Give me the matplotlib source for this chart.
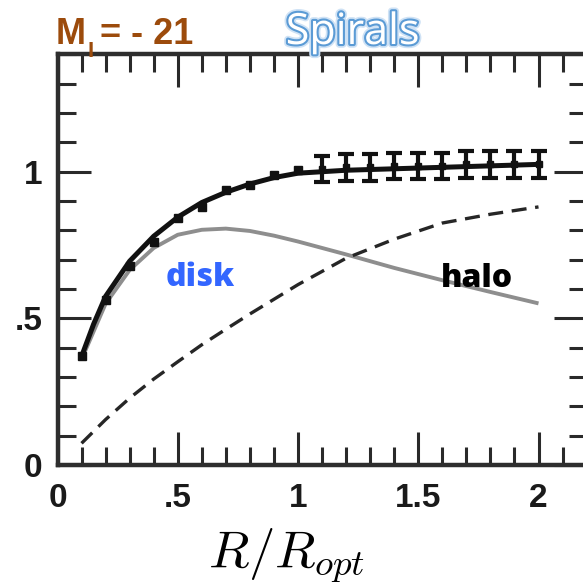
import matplotlib
matplotlib.use('Agg')
import matplotlib.pyplot as plt
import matplotlib.patheffects as pe
from matplotlib.ticker import MultipleLocator

plt.rcParams['mathtext.fontset'] = 'cm'

# ---- data ----
point_r = [0.1, 0.2, 0.3, 0.4, 0.5, 0.6, 0.7, 0.8, 0.9, 1.0]
point_v = [0.37, 0.563, 0.68, 0.761, 0.841, 0.881, 0.938, 0.955, 0.989, 1.006]

err_r = [1.1, 1.2, 1.3, 1.4, 1.5, 1.6, 1.7, 1.8, 1.9, 2.0]
err_v = [1.01, 1.015, 1.015, 1.02, 1.02, 1.02, 1.025, 1.025, 1.025, 1.025]
err_e = [0.045, 0.045, 0.045, 0.045, 0.045, 0.045, 0.045, 0.045, 0.045, 0.045]

total_r = [0.1, 0.15, 0.2, 0.3, 0.4, 0.5, 0.6, 0.7, 0.8, 0.9, 1.0, 1.2, 1.4, 1.6, 1.8, 2.0]
total_v = [0.37, 0.48, 0.575, 0.695, 0.78, 0.845, 0.895, 0.93, 0.958, 0.98, 0.995,
           1.005, 1.01, 1.015, 1.02, 1.025]

disk_r = [0.1, 0.2, 0.3, 0.4, 0.5, 0.6, 0.7, 0.8, 0.9, 1.0, 1.2, 1.4, 1.6, 1.8, 2.0]
disk_v = [0.36, 0.55, 0.665, 0.74, 0.785, 0.802, 0.806, 0.798, 0.782, 0.762,
          0.718, 0.672, 0.630, 0.590, 0.551]

halo_r = [0.1, 0.2, 0.3, 0.4, 0.5, 0.6, 0.7, 0.8, 0.9, 1.0, 1.2, 1.4, 1.6, 1.8, 2.0]
halo_v = [0.074, 0.155, 0.228, 0.293, 0.352, 0.41, 0.463, 0.515, 0.565, 0.615,
          0.705, 0.77, 0.825, 0.855, 0.88]

xtick_vals = [0, 0.5, 1, 1.5, 2]
xtick_labels = ['0', '.5', '1', '1.5', '2']
ytick_vals = [0, 0.5, 1]
ytick_labels = ['0', '.5', '1']

# ---- figure ----
W, H = 583, 584
fig = plt.figure(figsize=(W / 100, H / 100), dpi=100)
ax = fig.add_axes([57.5 / W, (H - 465) / H, 529.1 / W, 410.6 / H])
ax.set_xlim(0, 2.2)
ax.set_ylim(0, 1.4)

ink = '#262626'
ax.plot(disk_r, disk_v, color='#8e8e8e', lw=2.8, solid_capstyle='butt', zorder=2)
ax.plot(halo_r, halo_v, color=ink, lw=2.4, linestyle=(0, (4.5, 2.6)), zorder=2)
ax.plot(total_r, total_v, color='#111111', lw=3.6, zorder=3)
ax.plot(point_r, point_v, linestyle='none', marker='s', ms=5.5, color='#111111', zorder=4)
ax.errorbar(err_r, err_v, yerr=err_e, fmt='s', ms=4.5, color='#111111',
            elinewidth=3, capsize=6, capthick=3, zorder=4)

for s in ax.spines.values():
    s.set_linewidth(3.2)
    s.set_color('#2e2e2e')

ax.set_xticks(xtick_vals, xtick_labels)
ax.set_yticks(ytick_vals, ytick_labels)
ax.xaxis.set_minor_locator(MultipleLocator(0.1))
ax.yaxis.set_minor_locator(MultipleLocator(0.1))
ax.tick_params(which='both', direction='in', top=True, right=True,
               labeltop=False, labelright=False, color='#2a2a2a', width=2.2)
ax.tick_params(which='major', length=24)
ax.tick_params(which='minor', length=13)
ax.tick_params(axis='x', which='major', pad=13, labelsize=24)
ax.tick_params(axis='y', which='major', pad=11, labelsize=24)
for lab in ax.get_xticklabels() + ax.get_yticklabels():
    lab.set_fontfamily('Liberation Sans')
    lab.set_fontweight('bold')
    lab.set_color('#1a1a1a')


def px(x, y):
    return x / W, 1 - y / H


fig.text(*px(286.5, 567), r'$R/R_{opt}$', fontsize=38, ha='center', va='baseline')

fig.text(*px(200, 286), 'disk', fontsize=23, fontfamily='Open Sans', fontweight='heavy',
         color='#3366ff', ha='center', va='baseline')
fig.text(*px(477, 287), 'halo', fontsize=23, fontfamily='Open Sans', fontweight='heavy',
         color='black', ha='center', va='baseline')

fig.text(*px(352.5, 44), 'Spirals', fontsize=31, fontfamily='Open Sans', color='white',
         ha='center', va='baseline',
         path_effects=[pe.Stroke(linewidth=5.5, foreground='#cfe2f5'),
                       pe.Stroke(linewidth=3, foreground='#5b9bd5'),
                       pe.Normal()])

brown = '#9c4b0c'
fig.text(*px(55.5, 44), 'M', fontsize=26, fontfamily='Liberation Sans', fontweight='bold',
         color=brown, ha='left', va='baseline')
fig.text(*px(87.5, 57), 'I', fontsize=16, fontfamily='Liberation Sans', fontweight='bold',
         color=brown, ha='left', va='baseline')
fig.text(*px(100, 44), '= - 21', fontsize=26, fontfamily='Liberation Sans', fontweight='bold',
         color=brown, ha='left', va='baseline')

fig.savefig('out.png', dpi=100)
